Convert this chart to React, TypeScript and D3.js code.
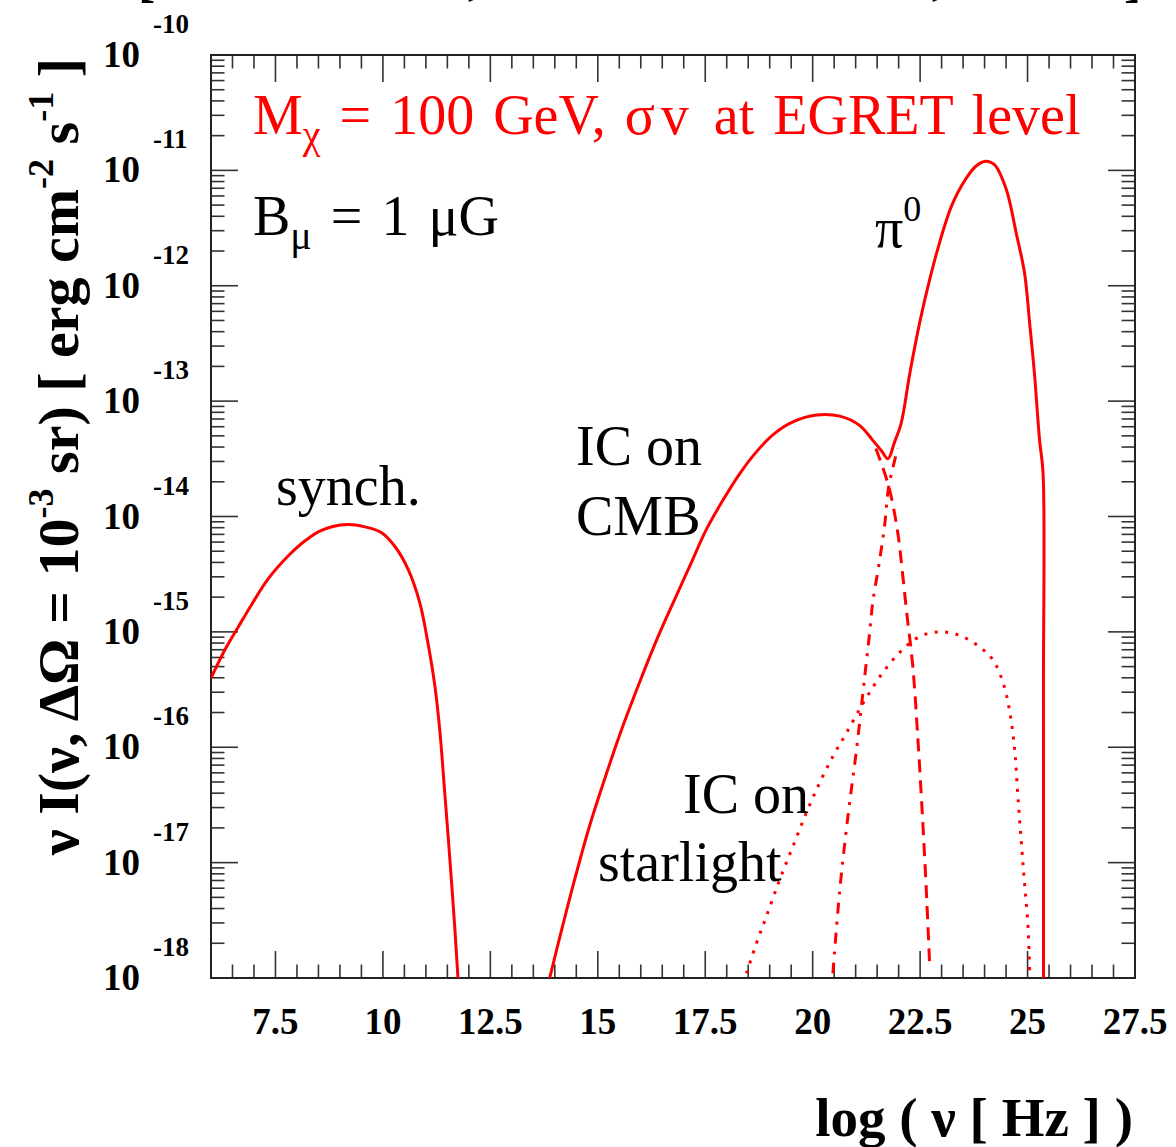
import React from "react";
import * as d3 from "d3";

// ---- data (log10 nu [Hz], log10 nuI) ----
const synchX = [6.0, 6.33, 6.63, 6.95, 7.33, 7.8, 8.19, 8.57, 9.16, 9.58, 9.97, 10.28, 10.59, 10.86, 11.05, 11.21, 11.33, 11.44, 11.56, 11.67, 11.75];
const synchY = [-15.4, -15.15, -14.96, -14.76, -14.54, -14.34, -14.21, -14.12, -14.07, -14.09, -14.14, -14.26, -14.46, -14.75, -15.1, -15.47, -15.88, -16.4, -16.98, -17.55, -18.02];

const totalX = [13.88, 14.12, 14.43, 14.81, 15.2, 15.59, 15.98, 16.37, 16.75, 17.14, 17.53, 17.91, 18.3, 18.69, 19.08, 19.54, 20.09, 20.63, 21.09, 21.4, 21.6, 21.75, 21.9, 22.06, 22.26, 22.49, 22.72, 22.95, 23.23, 23.57, 23.81, 24.02, 24.23, 24.5, 24.74, 24.93, 25.05, 25.16, 25.28, 25.36, 25.37, 25.371];
const totalY = [-18.0, -17.64, -17.19, -16.68, -16.23, -15.81, -15.43, -15.07, -14.75, -14.43, -14.11, -13.86, -13.63, -13.44, -13.29, -13.18, -13.12, -13.13, -13.21, -13.34, -13.43, -13.5, -13.36, -13.19, -12.76, -12.32, -11.95, -11.63, -11.31, -11.07, -10.96, -10.92, -10.95, -11.16, -11.55, -11.89, -12.33, -12.76, -13.34, -13.62, -15.5, -18.05];

// IC on CMB high-energy tail (dashed)
const icTailX = [21.47, 21.77, 21.98, 22.09, 22.19, 22.33, 22.45, 22.55, 22.64, 22.72];
const icTailY = [-13.41, -13.74, -14.14, -14.49, -14.84, -15.3, -15.94, -16.57, -17.21, -17.87];

// pi0 low-energy tail (dash-dot)
const pi0TailX = [20.47, 20.63, 20.82, 21.02, 21.21, 21.31, 21.4, 21.54, 21.67, 21.77, 21.98];
const pi0TailY = [-17.96, -17.24, -16.6, -16.02, -15.39, -15.06, -14.74, -14.42, -14.09, -13.74, -13.41];

// IC on starlight (dotted)
const starX = [18.46, 18.69, 18.92, 19.23, 19.54, 19.85, 20.16, 20.47, 20.78, 21.17, 21.56, 22.02, 22.49, 22.95, 23.42, 23.88, 24.19, 24.43, 24.58, 24.7, 24.77, 24.85, 24.93, 25.01, 25.05];
const starY = [-17.96, -17.7, -17.47, -17.15, -16.86, -16.57, -16.31, -16.08, -15.88, -15.62, -15.39, -15.18, -15.04, -15.0, -15.03, -15.13, -15.24, -15.44, -15.68, -16.02, -16.4, -16.8, -17.18, -17.55, -17.96];

const xTickValues = [7.5, 10, 12.5, 15, 17.5, 20, 22.5, 25, 27.5];
const xTickLabels = ["7.5", "10", "12.5", "15", "17.5", "20", "22.5", "25", "27.5"];
const yDecades = [-10, -11, -12, -13, -14, -15, -16, -17, -18];

const RED = "#ff0000";
const SERIF = "'Liberation Serif', 'Times New Roman', serif";

export default function App() {
  const W = 1176, H = 1147;
  const L = 211, R = 1135, T = 55, B = 978;
  const x = d3.scaleLinear().domain([6, 27.5]).range([L, R]);
  const y = d3.scaleLog().domain([1e-18, 1e-10]).range([B, T]);

  const mk = (xs: number[], ys: number[]) => xs.map((v, i) => [v, Math.pow(10, ys[i])] as [number, number]);
  const line = d3.line<[number, number]>().x(d => x(d[0])).y(d => y(d[1])).curve(d3.curveCatmullRom.alpha(0.5));

  const MAJ = 27, MIN = 13.5;
  const xMinor = d3.range(6, 27.51, 0.5);
  const ticks: React.ReactNode[] = [];
  xMinor.forEach((v, i) => {
    const isMaj = xTickValues.some(t => Math.abs(t - v) < 1e-6);
    const len = isMaj ? MAJ : MIN;
    const px = x(v);
    ticks.push(<line key={"xb" + i} x1={px} x2={px} y1={B} y2={B - len} />);
    ticks.push(<line key={"xt" + i} x1={px} x2={px} y1={T} y2={T + len} />);
  });
  for (let d = -18; d <= -10; d++) {
    for (let k = 1; k <= 9; k++) {
      if (d === -10 && k > 1) break;
      const v = k * Math.pow(10, d);
      const py = y(v);
      const len = k === 1 ? MAJ : MIN;
      ticks.push(<line key={"yl" + d + k} x1={L} x2={L + len} y1={py} y2={py} />);
      ticks.push(<line key={"yr" + d + k} x1={R} x2={R - len} y1={py} y2={py} />);
    }
  }

  return (
    <svg width={W} height={H} style={{ position: "absolute", left: 0, top: 0, background: "#fff" }} fontFamily={SERIF}>
      <rect x={0} y={0} width={W} height={H} fill="#fff" />
      {/* cut-off title fragments */}
      <g fontWeight="bold" fontSize={52} fill="#000">
        <text x={138} y={-4}>[</text>
        <text x={468} y={-6}>,</text>
        <text x={932} y={-6}>,</text>
        <text x={1124} y={-4}>]</text>
      </g>
      <defs>
        <clipPath id="plot"><rect x={L} y={T} width={R - L} height={B - T} /></clipPath>
      </defs>
      <g stroke="#333" strokeWidth={1.6}>{ticks}</g>
      <rect x={L} y={T} width={R - L} height={B - T} fill="none" stroke="#222" strokeWidth={2} />

      <g clipPath="url(#plot)" fill="none" stroke={RED} strokeWidth={3}>
        <path d={line(mk(synchX, synchY)) || ""} />
        <path d={line(mk(totalX, totalY)) || ""} />
        <path d={line(mk(icTailX, icTailY)) || ""} strokeDasharray="13 8" />
        <path d={line(mk(pi0TailX, pi0TailY)) || ""} strokeDasharray="11 8 3 8" />
        <path d={line(mk(starX, starY)) || ""} strokeDasharray="3 7.5" />
      </g>

      {/* y tick labels */}
      <g fontWeight="bold" fill="#000">
        {yDecades.map(d => (
          <g key={"yl" + d}>
            <text x={140} y={y(Math.pow(10, d)) + 12} textAnchor="end" fontSize={37}>10</text>
            <text x={153} y={y(Math.pow(10, d)) - 22} fontSize={27}>{"-" + Math.abs(d)}</text>
          </g>
        ))}
        {xTickValues.map((v, i) => (
          <text key={"xl" + i} x={x(v)} y={1034} textAnchor="middle" fontSize={37}>{xTickLabels[i]}</text>
        ))}
      </g>

      {/* axis titles */}
      <text x={1133} y={1136} textAnchor="end" fontWeight="bold" fontSize={55}>log ( ν [ Hz ] )</text>
      <text transform="translate(78,58) rotate(-90)" textAnchor="end" fontWeight="bold" fontSize={58}>
        <tspan>ν  I(ν, ΔΩ = 10</tspan>
        <tspan fontSize={36} dy={-25}>-3</tspan>
        <tspan dy={25}> sr) [ erg  cm</tspan>
        <tspan fontSize={36} dy={-25}>-2</tspan>
        <tspan dy={25}> s</tspan>
        <tspan fontSize={36} dy={-25}>-1</tspan>
        <tspan dy={25}> ]</tspan>
      </text>

      {/* annotations */}
      <text x={253} y={134} fill={RED} fontSize={56} wordSpacing={5}>
        <tspan>M</tspan>
        <tspan fontSize={40} dy={14}>χ</tspan>
        <tspan dy={-14}> = 100 GeV, </tspan>
        <tspan letterSpacing={6}>σv</tspan>
        <tspan> at EGRET level</tspan>
      </text>
      <text x={253} y={235} fill="#000" fontSize={56} wordSpacing={5}>
        <tspan>B</tspan>
        <tspan fontSize={40} dy={14}>μ</tspan>
        <tspan dy={-14}> = 1 μG</tspan>
      </text>
      <text x={875} y={247} fill="#000" fontSize={56}>
        <tspan>π</tspan>
        <tspan fontSize={36} dy={-26}>0</tspan>
      </text>
      <text x={276} y={505} fontSize={56}>synch.</text>
      <text x={576} y={465} fontSize={56}>IC on</text>
      <text x={576} y={535} fontSize={56}>CMB</text>
      <text x={683} y={813} fontSize={56}>IC on</text>
      <text x={598} y={881} fontSize={56}>starlight</text>
    </svg>
  );
}
